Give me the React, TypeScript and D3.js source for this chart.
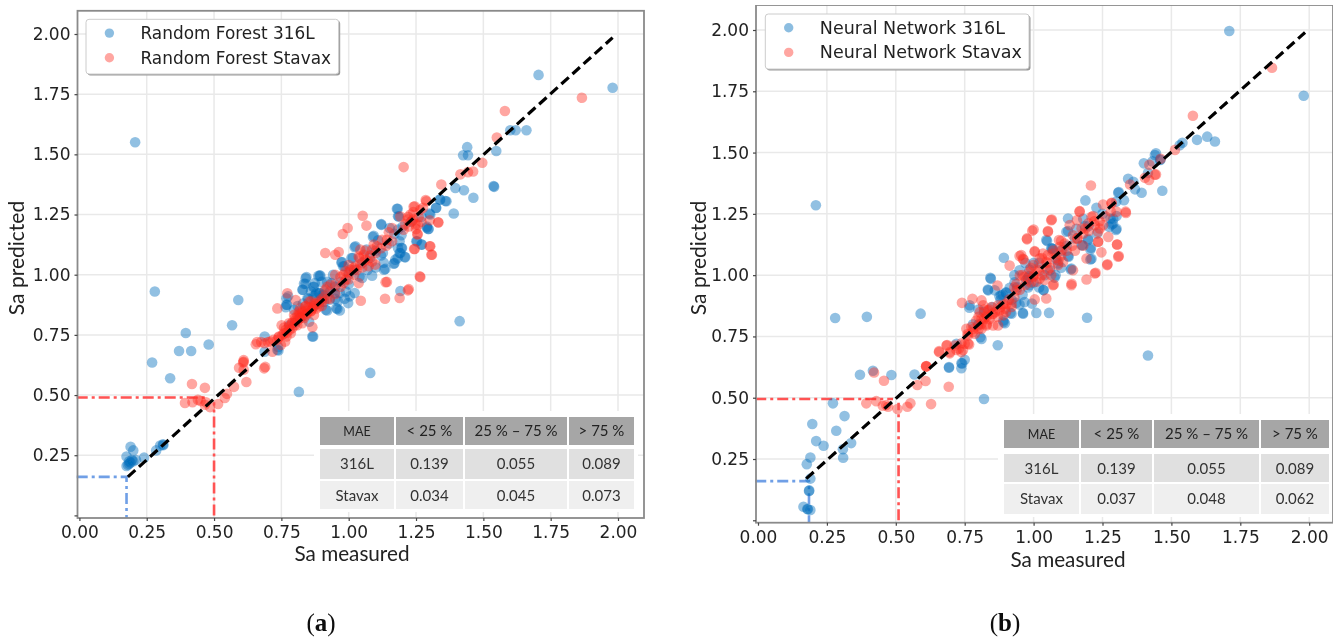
import React, { useEffect, useRef } from "react";
import * as d3 from "d3";

type Pt = [number, number];

const TICKS = [0, 0.25, 0.5, 0.75, 1, 1.25, 1.5, 1.75, 2];
const TABLE_HEAD = ["MAE", "< 25 %", "25 % – 75 %", "> 75 %"];

const rfBlue: Pt[] = [
  [0.207, 1.55], [0.28, 0.93], [0.27, 0.635], [0.337, 0.57], [0.37, 0.683], [0.395, 0.758], [0.415, 0.683], [0.48, 0.71],
  [0.567, 0.79], [0.59, 0.895], [0.815, 0.513], [1.08, 0.592], [1.412, 0.807], [1.705, 1.83], [1.98, 1.777],
  [1.425, 1.496], [1.443, 1.496], [1.548, 1.514], [1.44, 1.53], [1.6, 1.6], [1.62, 1.6], [1.66, 1.6], [1.396, 1.36], [1.428, 1.351],
  [1.463, 1.32], [1.39, 1.254], [1.538, 1.368], [1.54, 1.365], [1.338, 1.3125], [1.359, 1.306], [1.324, 1.278], [1.3, 1.254],
  [1.295, 1.19], [1.29, 1.195], [1.179, 1.274], [1.183, 1.243], [1.121, 1.207], [1.152, 1.194], [1.09, 1.157], [1.109, 1.143],
  [1.183, 1.1875], [1.196, 1.164], [1.251, 1.139], [1.27, 1.125], [1.183, 1.111], [1.196, 1.111], [1.208, 1.074], [1.189, 1.09],
  [1.173, 1.0625], [1.167, 1.046], [1.131, 1.021], [1.022, 1.114], [1.066, 1.104], [1.127, 1.09], [0.973, 1.051], [1.01, 1.069],
  [0.979, 1.035], [1.04, 0.993], [0.892, 0.996], [0.843, 0.99], [0.84, 0.9625], [0.83, 0.9375], [0.868, 0.949], [0.775, 0.91],
  [0.771, 0.875], [0.88, 0.924], [0.892, 0.924], [0.905, 0.917], [0.942, 1.0], [0.936, 0.965], [0.948, 0.924], [0.967, 0.924],
  [0.929, 0.896], [0.954, 0.861], [0.958, 0.858], [0.92, 0.851], [0.967, 0.851], [0.998, 0.882], [1.022, 0.924], [1.004, 0.91],
  [1.192, 0.932], [0.868, 0.743], [0.688, 0.743], [0.738, 0.7], [0.688, 0.68], [0.735, 0.688], [0.739, 0.685], [0.865, 0.743],
  [0.853, 0.805], [0.84, 0.985], [0.887, 0.995], [0.874, 0.965], [0.834, 0.962], [0.828, 0.937], [0.871, 0.95], [0.877, 0.916],
  [0.89, 0.923], [0.847, 0.902], [0.769, 0.902], [0.769, 0.875], [0.766, 0.865], [0.797, 0.854], [0.915, 0.854], [0.908, 0.888],
  [1.182, 1.274], [1.186, 1.242], [1.121, 1.21], [1.093, 1.162], [1.025, 1.118], [1.015, 1.069], [0.975, 1.053], [0.984, 1.035],
  [1.136, 1.024], [1.17, 1.048], [1.182, 1.069], [1.21, 1.072], [1.198, 1.111], [1.189, 1.139], [1.254, 1.139], [1.272, 1.125],
  [1.297, 1.19], [1.303, 1.25], [1.325, 1.277], [1.34, 1.312], [1.363, 1.305], [1.192, 1.09], [1.05, 0.986], [1.087, 0.996], [0.895, 0.996],
  [0.175, 0.205], [0.185, 0.215], [0.19, 0.22], [0.195, 0.23], [0.175, 0.245], [0.19, 0.285], [0.2, 0.27], [0.24, 0.24],
  [0.285, 0.27], [0.3, 0.29], [0.31, 0.295], [0.312, 0.292], [0.2, 0.225], [0.21, 0.23], [0.18, 0.21], [0.185, 0.225],
  [0.86, 0.93], [0.87, 0.91], [0.9, 0.9], [0.91, 0.93], [0.93, 0.93], [0.95, 0.9], [0.96, 0.89], [0.985, 0.9],
  [0.99, 0.93], [0.89, 0.88], [0.87, 0.87], [0.83, 0.88], [0.81, 0.87], [0.85, 0.9], [1.0, 1.0], [1.02, 1.02],
  [1.05, 1.05], [1.08, 1.07], [1.1, 1.1], [1.12, 1.08], [1.15, 1.13], [1.17, 1.17], [1.2, 1.2], [1.23, 1.22],
  [1.27, 1.24], [1.29, 1.2], [1.0, 0.96], [0.97, 0.97], [0.95, 0.95], [0.92, 0.97], [0.9, 0.97], [1.07, 1.02],
  [1.1, 1.03], [1.13, 1.05], [0.8, 0.8], [0.78, 0.79], [0.82, 0.82],
];

const rfRed: Pt[] = [
  [0.608, 0.635], [0.686, 0.611], [0.655, 0.711], [0.688, 0.715], [0.717, 0.68], [0.71, 0.722], [0.735, 0.73], [0.754, 0.75],
  [0.764, 0.722], [0.741, 0.743], [0.748, 0.708], [0.766, 0.771], [0.751, 0.79], [0.778, 0.798], [0.79, 0.778], [0.772, 0.923],
  [0.735, 0.86], [0.803, 0.895], [0.865, 0.782], [0.828, 0.798], [0.803, 0.812], [0.815, 0.826], [0.828, 0.847], [0.84, 0.868],
  [0.853, 0.888], [0.871, 0.88], [0.865, 0.86], [0.847, 0.84], [0.815, 0.847], [0.797, 0.833], [0.89, 0.868], [0.9, 0.888],
  [0.92, 0.95], [0.93, 0.9], [0.778, 0.785], [0.76, 0.757], [0.785, 0.757], [0.769, 0.743], [0.79, 0.798], [0.809, 0.79],
  [0.834, 0.82], [0.859, 0.847], [0.871, 0.833], [0.82, 0.84], [0.84, 0.85], [0.85, 0.865], [0.83, 0.83], [0.81, 0.81],
  [1.052, 1.245], [0.996, 1.194], [1.066, 1.204], [0.978, 1.169], [0.913, 1.09], [0.963, 1.094], [0.95, 1.083], [1.142, 0.97],
  [1.266, 0.99], [1.245, 1.107], [1.303, 1.118], [1.309, 1.083], [1.256, 1.169], [1.288, 1.305], [1.245, 1.284], [1.333, 1.217],
  [1.223, 0.94], [1.229, 1.25], [1.219, 1.229], [1.235, 1.222], [1.248, 1.208], [1.223, 1.2], [1.192, 1.242], [1.161, 1.194],
  [1.149, 1.176], [1.124, 1.145], [1.105, 1.118], [1.087, 1.104], [1.161, 1.139], [1.142, 1.145], [1.093, 1.125], [1.043, 1.104],
  [1.056, 1.083], [1.037, 1.076], [1.062, 1.062], [1.043, 1.042], [1.025, 1.035], [1.006, 1.02], [0.988, 1.014], [1.019, 1.028],
  [1.074, 1.035], [1.087, 1.055], [1.099, 1.042], [1.0, 0.98], [0.969, 0.99], [0.95, 1.0], [0.932, 0.958], [0.913, 0.938],
  [0.95, 0.958], [0.981, 0.965], [1.037, 0.965], [1.204, 1.187], [1.266, 1.27],
  [1.204, 1.447], [1.344, 1.375], [1.415, 1.417], [1.443, 1.426], [1.462, 1.429], [1.496, 1.465], [1.286, 1.31], [1.241, 1.282],
  [1.276, 1.278], [1.239, 1.229], [1.257, 1.208], [1.332, 1.218], [1.301, 1.226], [1.255, 1.167], [1.301, 1.118], [1.307, 1.083],
  [1.243, 1.107], [1.264, 0.993], [1.137, 0.969], [1.22, 0.935], [1.135, 0.9], [1.189, 0.903], [1.045, 0.892],
  [1.58, 1.68], [1.866, 1.735], [1.55, 1.57], [0.392, 0.467], [0.418, 0.546], [0.466, 0.53], [0.42, 0.47], [0.466, 0.46],
  [0.485, 0.45], [0.515, 0.463], [0.54, 0.488], [0.548, 0.505], [0.574, 0.534], [0.62, 0.554], [0.593, 0.613], [0.61, 0.638],
  [0.61, 0.605], [0.69, 0.617], [0.61, 0.645], [0.66, 0.72], [0.675, 0.72], [0.45, 0.475], [0.44, 0.48], [0.47, 0.47],
  [0.8, 0.82], [0.81, 0.83], [0.82, 0.82], [0.83, 0.84], [0.84, 0.83], [0.85, 0.85], [0.86, 0.85], [0.87, 0.87],
  [0.88, 0.88], [0.89, 0.89], [0.9, 0.9], [0.91, 0.91], [0.79, 0.8], [0.78, 0.77], [0.77, 0.76], [0.8, 0.79],
  [0.82, 0.86], [0.84, 0.87], [0.86, 0.89], [0.88, 0.86], [0.9, 0.87], [0.92, 0.9], [0.95, 0.92], [0.97, 0.95],
  [0.99, 0.98], [1.0, 1.01], [1.02, 1.0], [1.03, 1.02], [1.05, 1.03], [1.07, 1.06], [1.08, 1.08], [1.1, 1.09],
  [1.12, 1.11], [1.14, 1.12], [1.06, 1.1], [1.04, 1.07], [1.0, 1.04], [0.98, 1.0], [0.7, 0.72], [0.72, 0.73],
  [0.74, 0.74], [0.76, 0.78], [1.22, 1.24], [1.24, 1.26], [1.26, 1.24], [1.27, 1.22], [1.21, 1.21], [1.25, 1.19],
];

const nnBlue: Pt[] = [
  [0.21, 1.285], [0.28, 0.825], [0.395, 0.83], [0.59, 0.843], [1.415, 0.672], [0.82, 0.495], [1.71, 1.996], [1.98, 1.732],
  [1.53, 1.53], [1.593, 1.552], [1.63, 1.565], [1.658, 1.545], [1.54, 1.54], [1.44, 1.49], [1.46, 1.47], [1.415, 1.417], [1.368, 1.35],
  [1.444, 1.497], [1.4, 1.456], [1.431, 1.464], [1.459, 1.472], [1.467, 1.344], [1.392, 1.336], [1.343, 1.393], [1.362, 1.381],
  [1.309, 1.339], [1.328, 1.306], [1.188, 1.305], [1.125, 1.231], [1.289, 1.23], [1.283, 1.207], [1.301, 1.241], [1.301, 1.189],
  [1.274, 1.197], [1.228, 1.275], [1.18, 1.23], [1.186, 1.2], [1.155, 1.189], [1.125, 1.18], [1.046, 1.143], [1.07, 1.107],
  [1.198, 1.148], [1.174, 1.122], [1.177, 1.122], [1.208, 1.112], [1.21, 1.067], [0.892, 1.071], [1.125, 1.078], [1.137, 1.027],
  [1.083, 1.064], [0.985, 1.023], [0.979, 0.989], [0.843, 0.989], [0.834, 0.941], [0.876, 0.914], [0.882, 0.918], [0.888, 0.921],
  [0.931, 0.971], [0.9, 0.928], [0.913, 0.948], [0.937, 0.887], [0.949, 0.88], [0.967, 0.89], [0.994, 0.884], [1.01, 0.846],
  [1.056, 0.846], [0.961, 0.846], [0.916, 0.846], [0.891, 0.808], [0.767, 0.867], [1.036, 0.939], [1.194, 0.826], [0.807, 0.747],
  [0.87, 0.714], [0.983, 0.996], [1.064, 1.11], [0.845, 0.985], [0.835, 0.938], [0.859, 0.938], [0.768, 0.877], [0.811, 0.74],
  [0.75, 0.655], [0.738, 0.641], [0.693, 0.625], [0.92, 0.843], [0.962, 0.843], [0.896, 0.804], [0.89, 0.815], [0.738, 0.62],
  [1.279, 1.231], [1.288, 1.211], [1.299, 1.184], [1.307, 1.336], [1.119, 1.177], [1.049, 1.139], [1.067, 1.109], [1.127, 1.075],
  [1.089, 1.048], [1.135, 1.023], [1.198, 1.143], [1.206, 1.105], [1.206, 1.064], [0.973, 0.98], [0.985, 0.959], [1.036, 0.939],
  [1.076, 0.99], [0.949, 1.02], [0.37, 0.594], [0.417, 0.61], [0.484, 0.593], [0.568, 0.595], [0.693, 0.622], [0.741, 0.64],
  [0.272, 0.477], [0.314, 0.425], [0.197, 0.393], [0.284, 0.365], [0.211, 0.323], [0.238, 0.304], [0.338, 0.315], [0.308, 0.29],
  [0.309, 0.255], [0.19, 0.256], [0.177, 0.229], [0.19, 0.17], [0.185, 0.12], [0.186, 0.122], [0.165, 0.055], [0.179, 0.046], [0.19, 0.042], [0.181, 0.045],
  [0.88, 0.9], [0.9, 0.93], [0.92, 0.9], [0.94, 0.95], [0.96, 0.92], [0.98, 0.95], [1.0, 0.97], [1.02, 0.95],
  [1.04, 1.0], [1.06, 1.02], [1.08, 1.0], [1.1, 1.03], [1.0, 1.05], [1.02, 1.05], [0.97, 1.05], [0.93, 1.0],
  [1.1, 1.1], [1.12, 1.12], [1.15, 1.15], [1.2, 1.2], [1.23, 1.17], [1.25, 1.25], [1.3, 1.3], [0.85, 0.87],
  [0.82, 0.85], [0.8, 0.86], [0.8, 0.8], [0.78, 0.8], [0.72, 0.72],
];

const nnRed: Pt[] = [
  [0.74, 0.887], [0.778, 0.904], [0.811, 0.897], [0.869, 0.958], [0.657, 0.686], [0.684, 0.713], [0.696, 0.686], [0.714, 0.713],
  [0.738, 0.686], [0.766, 0.717], [0.61, 0.628], [0.729, 0.7], [0.75, 0.72], [0.762, 0.754], [0.78, 0.768], [0.756, 0.781],
  [0.774, 0.788], [0.787, 0.761], [0.799, 0.795], [0.811, 0.781], [0.829, 0.795], [0.853, 0.795], [0.871, 0.795], [0.792, 0.815],
  [0.811, 0.822], [0.829, 0.836], [0.853, 0.843], [0.877, 0.856], [0.896, 0.863], [0.847, 0.87], [0.871, 0.877], [0.902, 0.883],
  [0.805, 0.849], [0.835, 0.856], [0.817, 0.877], [0.89, 0.836], [0.92, 0.883], [0.938, 0.938], [0.95, 0.999], [0.98, 0.979], [0.938, 0.965],
  [1.064, 1.224], [0.995, 1.181], [0.976, 1.146], [1.052, 1.177], [1.004, 1.095], [0.955, 1.082], [0.964, 1.064], [1.167, 1.259],
  [1.157, 1.224], [1.188, 1.19], [1.131, 1.204], [1.335, 1.254], [1.301, 1.259], [1.283, 1.293], [1.234, 1.136], [1.246, 1.093],
  [1.267, 1.041], [1.307, 1.075], [1.303, 1.125], [1.271, 1.156], [1.192, 0.982], [1.222, 1.007], [1.137, 0.959], [1.143, 1.02],
  [1.07, 0.959], [1.192, 1.068], [1.092, 1.143], [1.104, 1.102], [1.158, 1.15], [1.21, 1.238], [1.24, 1.19], [1.234, 1.177],
  [1.252, 1.204], [1.222, 1.204], [1.198, 1.211], [1.174, 1.19], [1.143, 1.163], [1.113, 1.129], [1.095, 1.116], [1.07, 1.088],
  [1.052, 1.082], [1.034, 1.088], [1.022, 1.068], [1.046, 1.054], [0.998, 1.041], [1.022, 1.02], [1.052, 1.02], [0.985, 1.014],
  [0.967, 0.993], [0.998, 0.993], [1.022, 0.986], [1.064, 1.0], [1.01, 0.973], [1.04, 0.98], [1.089, 1.041], [1.107, 1.054],
  [1.578, 1.65], [1.513, 1.511], [1.865, 1.846], [1.42, 1.45], [1.44, 1.41], [1.404, 1.397], [1.461, 1.475], [1.444, 1.411],
  [1.419, 1.388], [1.35, 1.37], [1.208, 1.366], [1.334, 1.259], [1.283, 1.295], [1.252, 1.288], [1.216, 1.241], [1.167, 1.261],
  [1.066, 1.227], [1.0, 1.186], [0.976, 1.15], [1.052, 1.18], [1.303, 1.125], [1.234, 1.136], [1.309, 1.078], [1.268, 1.044],
  [1.225, 1.01], [1.138, 0.965], [1.073, 0.962], [1.046, 0.905], [1.004, 0.901], [0.913, 1.039], [0.949, 1.078], [0.961, 1.067], [1.004, 1.098],
  [0.421, 0.603], [0.457, 0.569], [0.611, 0.629], [0.61, 0.627], [0.608, 0.568], [0.578, 0.552], [0.692, 0.545], [0.628, 0.474],
  [0.393, 0.477], [0.429, 0.486], [0.453, 0.467], [0.472, 0.463], [0.465, 0.47], [0.506, 0.454], [0.542, 0.463], [0.553, 0.477],
  [0.657, 0.69], [0.686, 0.715], [0.696, 0.681], [0.72, 0.695], [0.738, 0.722], [0.762, 0.72], [0.744, 0.695],
  [0.82, 0.82], [0.83, 0.83], [0.84, 0.82], [0.85, 0.84], [0.86, 0.85], [0.83, 0.8], [0.81, 0.8], [0.8, 0.83],
  [0.82, 0.86], [0.84, 0.86], [0.87, 0.83], [0.88, 0.87], [0.89, 0.88], [0.91, 0.9], [0.93, 0.91], [0.95, 0.94],
  [0.97, 0.96], [0.99, 0.97], [1.0, 1.0], [1.02, 1.03], [1.03, 1.0], [1.05, 1.05], [1.06, 1.03], [1.08, 1.07],
  [1.09, 1.06], [1.1, 1.08], [1.12, 1.1], [1.14, 1.12], [1.16, 1.15], [1.18, 1.17], [1.2, 1.18], [1.22, 1.22],
  [1.24, 1.22], [1.26, 1.24], [1.28, 1.26], [0.93, 0.95], [0.96, 1.0], [0.99, 1.03], [1.03, 1.07], [1.07, 1.1],
  [1.1, 1.14], [1.15, 1.1], [1.18, 1.12], [0.9, 0.85], [0.92, 0.87], [0.78, 0.78], [0.76, 0.76], [0.8, 0.78],
];

const rfTable = [["316L", "0.139", "0.055", "0.089"], ["Stavax", "0.034", "0.045", "0.073"]];
const nnTable = [["316L", "0.139", "0.055", "0.089"], ["Stavax", "0.037", "0.048", "0.062"]];

const BLUE = "#006cbb";
const RED = "#ff2a20";
const GRID = "#e9e9e9";
const FRAME = "#8a8a8a";
const MONO = "DejaVu Sans";
const CALIBRI = "Lato";
const RADIUS = 5.3;

type PanelProps = {
  frame: { left: number; right: number; top: number; bottom: number };
  xRange: [number, number];
  yRange: [number, number];
  blue: Pt[];
  red: Pt[];
  name: string;
  legend: { x: number; y: number; w: number; h: number; size: number };
  diagonal: Pt[];
  blueGuide: Pt[];
  redGuide: Pt[];
  redDrop: Pt[];
  table: string[][];
  colEdges: number[];
  rowEdges: number[];
  xLabel: Pt;
  yLabel: Pt;
  caption: string;
  captionX: number;
};

function Panel(p: PanelProps) {
  const x = d3.scaleLinear().domain([0, 2]).range(p.xRange);
  const y = d3.scaleLinear().domain([0, 2]).range(p.yRange);
  const xRef = useRef<SVGGElement>(null);
  const yRef = useRef<SVGGElement>(null);
  const line = d3.line<Pt>().x((d) => x(d[0])).y((d) => y(d[1]));
  const { left, right, top, bottom } = p.frame;

  useEffect(() => {
    const xAxis = d3.axisBottom(x).tickValues(TICKS).tickSize(3).tickPadding(5).tickFormat(d3.format(".2f") as any);
    const yAxis = d3
      .axisLeft(y)
      .tickValues(TICKS)
      .tickSize(3)
      .tickPadding(4)
      .tickFormat(((d: number) => (d === 0 ? "" : d3.format(".2f")(d))) as any);
    for (const [ref, axis] of [[xRef, xAxis], [yRef, yAxis]] as any[]) {
      const g = d3.select(ref.current);
      g.call(axis);
      g.select(".domain").remove();
      g.selectAll("line").attr("stroke", "#444").attr("stroke-width", 1.2);
      g.selectAll("text").attr("font-family", MONO).attr("font-size", 17).attr("fill", "#222");
    }
  }, []);

  const [tl, tr] = [p.colEdges[0], p.colEdges[p.colEdges.length - 1]];

  return (
    <g>
      <rect x={left} y={top} width={right - left} height={bottom - top} fill="#fff" />
      <g stroke={GRID} strokeWidth={1.5}>
        {TICKS.slice(1).map((t) => (
          <line key={"gx" + t} x1={x(t)} x2={x(t)} y1={top} y2={bottom} />
        ))}
        {TICKS.slice(1).map((t) => (
          <line key={"gy" + t} x1={left} x2={right} y1={y(t)} y2={y(t)} />
        ))}
      </g>
      <path d={line(p.blueGuide) || ""} fill="none" stroke="#6f9fe6" strokeWidth={2.6} strokeDasharray="11 4 3 4" />
      <path d={line(p.redGuide) || ""} fill="none" stroke="#ff5252" strokeWidth={2.6} strokeDasharray="11 4 3 4" />
      <g fill={BLUE} fillOpacity={0.43}>
        {p.blue.map((d, i) => (
          <circle key={i} cx={x(d[0])} cy={y(d[1])} r={RADIUS} />
        ))}
      </g>
      <g fill={RED} fillOpacity={0.42}>
        {p.red.map((d, i) => (
          <circle key={i} cx={x(d[0])} cy={y(d[1])} r={RADIUS} />
        ))}
      </g>
      <path d={line(p.diagonal) || ""} fill="none" stroke="#000" strokeWidth={3.2} strokeDasharray="10 5" />

      <rect x={tl - 6} y={p.rowEdges[0] - 6} width={tr - tl + 10} height={p.rowEdges[5] - p.rowEdges[0] + 9} fill="#fff" />
      {TABLE_HEAD.map((h, c) => {
        const cx0 = p.colEdges[c * 2];
        const cx1 = p.colEdges[c * 2 + 1];
        return (
          <g key={h}>
            <rect x={cx0} y={p.rowEdges[0]} width={cx1 - cx0} height={p.rowEdges[1] - p.rowEdges[0]} fill="#a6a6a6" />
            <text x={(cx0 + cx1) / 2} y={p.rowEdges[0] + 19} textAnchor="middle" fontFamily={CALIBRI} fontSize={c === 0 ? 12.5 : 15} fill="#222">
              {h}
            </text>
            {p.table.map((row, r) => (
              <g key={r}>
                <rect
                  x={cx0}
                  y={p.rowEdges[2 + r * 2]}
                  width={cx1 - cx0}
                  height={p.rowEdges[3 + r * 2] - p.rowEdges[2 + r * 2]}
                  fill={r === 0 ? "#e0e0e0" : "#efefef"}
                />
                <text
                  x={(cx0 + cx1) / 2}
                  y={p.rowEdges[2 + r * 2] + 20}
                  textAnchor="middle"
                  fontFamily={CALIBRI}
                  fontSize={15}
                  fill="#333"
                >
                  {row[c]}
                </text>
              </g>
            ))}
          </g>
        );
      })}

      {/* the red drop line runs down over the table's white margin */}
      <path d={line(p.redDrop) || ""} fill="none" stroke="#ff5252" strokeWidth={2.6} strokeDasharray="11 4 3 4" />

      <rect x={left} y={top} width={right - left} height={bottom - top} fill="none" stroke={FRAME} strokeWidth={1.8} />
      <g ref={xRef} transform={`translate(0,${bottom})`} />
      <g ref={yRef} transform={`translate(${left},0)`} />

      <rect x={p.legend.x + 1.5} y={p.legend.y + 1.5} width={p.legend.w} height={p.legend.h} rx={3} fill="#999" />
      <rect x={p.legend.x} y={p.legend.y} width={p.legend.w} height={p.legend.h} rx={3} fill="#fff" stroke="#ccc" />
      <circle cx={p.legend.x + 23.4} cy={p.legend.y + 13.8} r={4.7} fill={BLUE} fillOpacity={0.45} />
      <circle cx={p.legend.x + 23.4} cy={p.legend.y + 38.4} r={4.7} fill={RED} fillOpacity={0.42} />
      <text x={p.legend.x + 54.5} y={p.legend.y + 19.8} fontFamily={MONO} fontSize={p.legend.size} fill="#222">
        {p.name} 316L
      </text>
      <text x={p.legend.x + 54.5} y={p.legend.y + 44.3} fontFamily={MONO} fontSize={p.legend.size} fill="#222">
        {p.name} Stavax
      </text>

      <text x={p.xLabel[0]} y={p.xLabel[1]} textAnchor="middle" fontFamily={CALIBRI} fontSize={20.7} fill="#222">
        Sa measured
      </text>
      <text
        transform={`translate(${p.yLabel[0]},${p.yLabel[1]}) rotate(-90)`}
        textAnchor="middle"
        fontFamily={CALIBRI}
        fontSize={21}
        fill="#222"
      >
        Sa predicted
      </text>
      <text x={p.captionX} y={631} textAnchor="middle" fontFamily="Liberation Serif" fontSize={25} fill="#111">
        (<tspan fontWeight="bold">{p.caption}</tspan>)
      </text>
    </g>
  );
}

export default function App() {
  return (
    <svg width={1341} height={640} style={{ position: "absolute", left: 0, top: 0 }}>
      <defs>
        <filter id="soft" x="0" y="0" width="100%" height="100%">
          <feGaussianBlur stdDeviation="0.55" />
        </filter>
      </defs>
      <rect width={1341} height={640} fill="#fff" />
      <g filter="url(#soft)">
        <Panel
          frame={{ left: 77.5, right: 644, top: 10.8, bottom: 518 }}
          xRange={[79.4, 618]}
          yRange={[515.4, 34]}
          blue={rfBlue}
          red={rfRed}
          name="Random Forest"
          legend={{ x: 86, y: 19.3, w: 252.7, h: 54.7, size: 16.9 }}
          diagonal={[[0.18, 0.16], [1.98, 1.985]]}
          blueGuide={[[-0.01, 0.16], [0.175, 0.16], [0.175, -0.01]]}
          redGuide={[[-0.01, 0.49], [0.48, 0.49]]}
          redDrop={[[0.5, 0], [0.5, 0.47]]}
          table={rfTable}
          colEdges={[320, 394, 396, 463, 465, 567, 569, 634]}
          rowEdges={[417, 445, 449, 479, 481, 509]}
          xLabel={[352, 561]}
          yLabel={[24, 258]}
          caption="a"
          captionX={321}
        />
        <Panel
          frame={{ left: 756, right: 1333, top: 5, bottom: 522.7 }}
          xRange={[758, 1309.2]}
          yRange={[520.3, 30]}
          blue={nnBlue}
          red={nnRed}
          name="Neural Network"
          legend={{ x: 765.3, y: 14, w: 263.7, h: 55, size: 17.5 }}
          diagonal={[[0.175, 0.17], [1.985, 1.99]]}
          blueGuide={[[-0.01, 0.16], [0.185, 0.16], [0.185, -0.01]]}
          redGuide={[[-0.01, 0.495], [0.49, 0.495]]}
          redDrop={[[0.51, 0], [0.51, 0.48]]}
          table={nnTable}
          colEdges={[1004, 1079, 1081, 1152, 1154, 1259, 1261, 1329]}
          rowEdges={[420, 448, 454, 482, 484, 514]}
          xLabel={[1068, 567]}
          yLabel={[706, 258]}
          caption="b"
          captionX={1005}
        />
      </g>
    </svg>
  );
}
